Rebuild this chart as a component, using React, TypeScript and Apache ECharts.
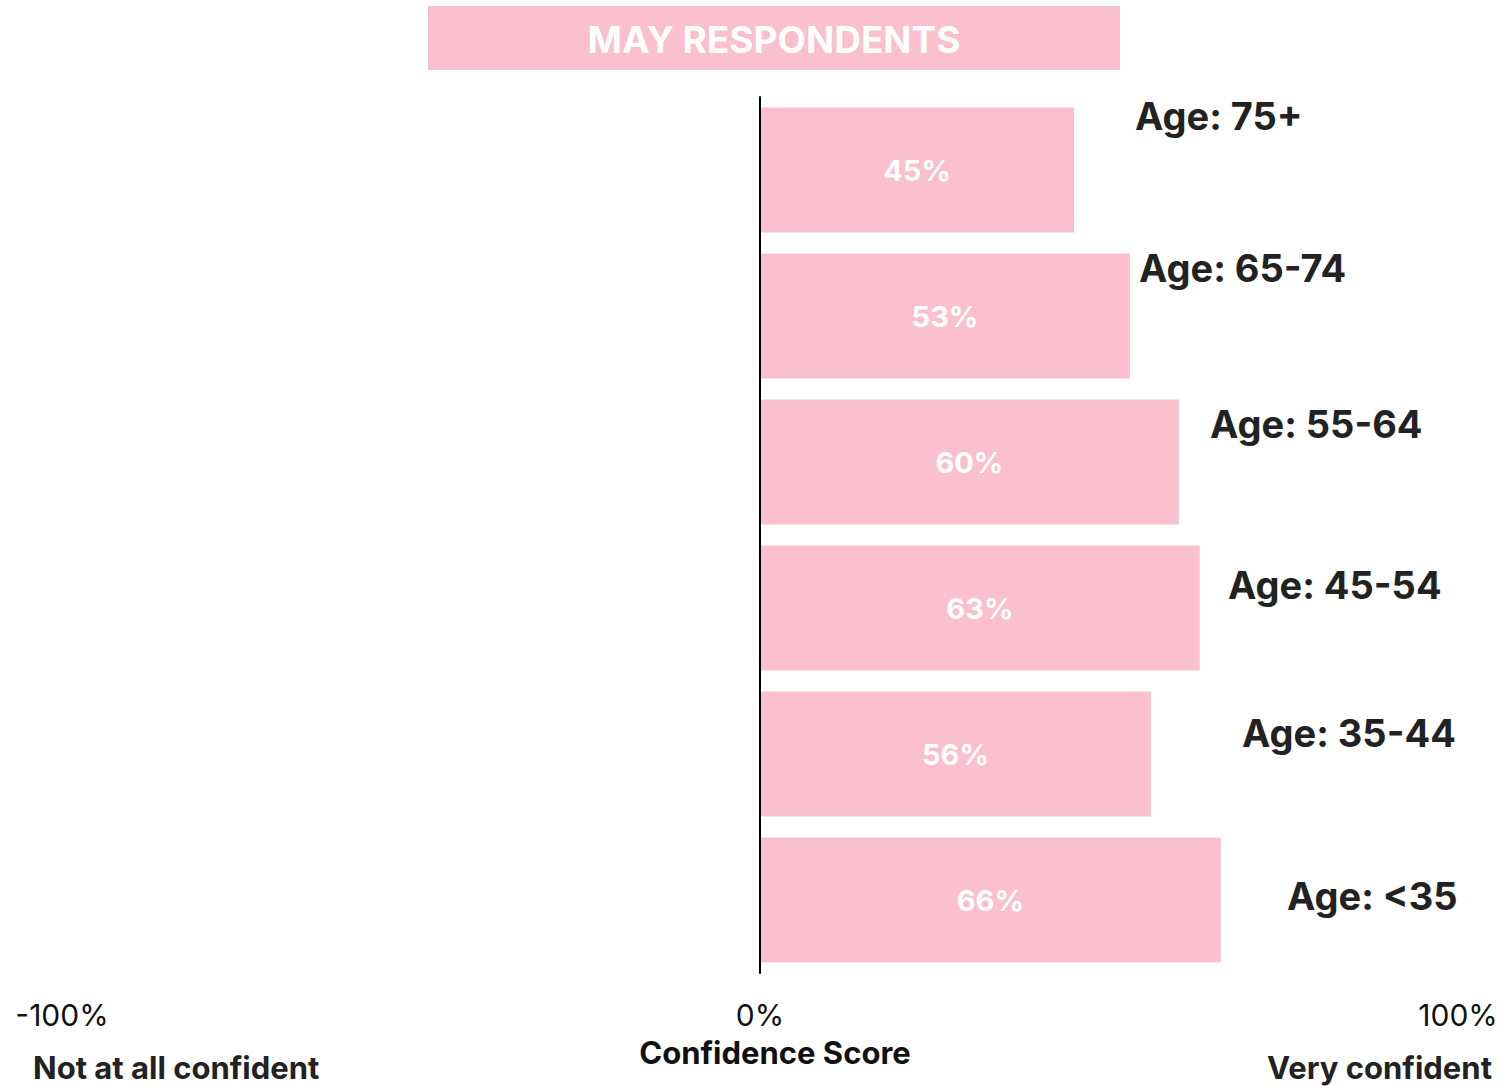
import React, { useEffect, useRef } from "react";
import * as echarts from "echarts";

const categories = ["Age: 75+", "Age: 65-74", "Age: 55-64", "Age: 45-54", "Age: 35-44", "Age: <35"];
const values = [45, 53, 60, 63, 56, 66];
const tickLabels = { min: -100, max: 100, interval: 100 };
const title = "MAY RESPONDENTS";
const axisTitle = "Confidence Score";
const leftEnd = "Not at all confident";
const rightEnd = "Very confident";

// label anchor positions (left x, middle y) for category annotations
const labelPos: [number, number][] = [
  [1135, 116],
  [1139, 268],
  [1210, 424],
  [1228, 585],
  [1242, 733],
  [1287, 896],
];

const PINK = "#FAC0CF";
const FONT = "Inter, Lato, 'Open Sans', sans-serif";

export default function App() {
  const ref = useRef<HTMLDivElement>(null);
  useEffect(() => {
    if (!ref.current) return;
    const chart = echarts.init(ref.current, undefined, { renderer: "svg" });
    const graphic: any[] = [
      {
        type: "rect",
        shape: { x: 428, y: 6, width: 692, height: 64 },
        style: { fill: PINK },
      },
      {
        type: "text",
        x: 774,
        y: 39,
        style: {
          text: title,
          fill: "#fff",
          font: `bold 37px ${FONT}`,
          align: "center",
          verticalAlign: "middle",
        },
      },
      {
        type: "text",
        x: 775,
        y: 1052,
        style: {
          text: axisTitle,
          fill: "#111",
          font: `bold 31px ${FONT}`,
          align: "center",
          verticalAlign: "middle",
        },
      },
      {
        type: "text",
        x: 33,
        y: 1067,
        style: {
          text: leftEnd,
          fill: "#222",
          font: `bold 31px ${FONT}`,
          align: "left",
          verticalAlign: "middle",
        },
      },
      {
        type: "text",
        x: 1492,
        y: 1067,
        style: {
          text: rightEnd,
          fill: "#222",
          font: `bold 31px ${FONT}`,
          align: "right",
          verticalAlign: "middle",
        },
      },
      ...categories.map((c, i) => ({
        type: "text",
        x: labelPos[i][0],
        y: labelPos[i][1],
        style: {
          text: c,
          fill: "#222",
          font: `bold 38px ${FONT}`,
          align: "left",
          verticalAlign: "middle",
        },
      })),
    ];
    chart.setOption({
      animation: false,
      backgroundColor: "#fff",
      textStyle: { fontFamily: FONT },
      grid: { left: 62, right: 43, top: 97, bottom: 113, containLabel: false },
      xAxis: {
        type: "value",
        min: tickLabels.min,
        max: tickLabels.max,
        interval: tickLabels.interval,
        axisLine: { show: false },
        axisTick: { show: false },
        splitLine: { show: false },
        axisLabel: {
          formatter: "{value}%",
          fontSize: 30,
          color: "#111",
          margin: 27,
          fontFamily: FONT,
        },
      },
      yAxis: {
        type: "category",
        data: categories,
        inverse: true,
        z: 5,
        axisLine: { show: true, onZero: true, lineStyle: { color: "#000", width: 2 } },
        axisTick: { show: false },
        axisLabel: { show: false },
        splitLine: { show: false },
      },
      series: [
        {
          type: "bar",
          data: values,
          barCategoryGap: "14.5%",
          itemStyle: { color: PINK },
          label: {
            show: true,
            position: "inside",
            formatter: "{c}%",
            color: "#fff",
            fontSize: 29,
            fontWeight: "bold",
            fontFamily: FONT,
          },
        },
      ],
      graphic,
    });
    return () => chart.dispose();
  }, []);
  return (
    <div
      ref={ref}
      style={{ position: "fixed", left: 0, top: 0, width: 1501, height: 1086 }}
    />
  );
}
